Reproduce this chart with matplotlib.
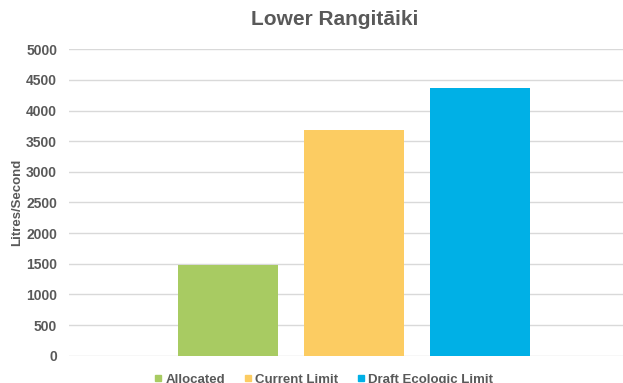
import matplotlib.pyplot as plt
from matplotlib.lines import Line2D

plt.rcParams['font.family'] = ['Liberation Sans', 'DejaVu Sans']

TITLE = "Lower Rangitāiki"
series = ["Allocated", "Current Limit", "Draft Ecologic Limit"]
values = [1475, 3675, 4365]
bar_colors = ["#a8cb62", "#fccc62", "#00b0e6"]
yticks = list(range(0, 5001, 500))

TEXT = "#595959"
GRID = "#d9d9d9"

fig = plt.figure(figsize=(6.23, 3.83), dpi=100)
ax = fig.add_axes([69 / 623, 0.0713, 1 - 69 / 623, 0.800])

positions = list(range(len(series)))
ax.bar(positions, values, width=0.794, color=bar_colors, zorder=2)

ax.set_xlim(-1.258, 3.135)
ax.set_ylim(0, 5000)
ax.set_yticks(yticks)
ax.set_xticks([])
ax.grid(axis='y', color=GRID, linewidth=1.0, zorder=0)
for s in ax.spines.values():
    s.set_visible(False)
ax.tick_params(axis='y', length=0, pad=8.5, labelsize=10, labelcolor=TEXT)
for lbl in ax.get_yticklabels():
    lbl.set_fontweight('bold')

ax.set_ylabel("Litres/Second", fontsize=9.5, fontweight='bold', color=TEXT)
ax.yaxis.set_label_coords(-0.093, 0.5)
ax.yaxis.label.set_va('center')

fig.text(0.538, 0.948, TITLE, ha='center', va='center', fontsize=15,
         fontweight='bold', color=TEXT)

# legend along the bottom edge
handles = [Line2D([], [], marker='s', linestyle='none', markersize=5,
                  markerfacecolor=c, markeredgecolor=c) for c in bar_colors]
leg = fig.legend(handles, series, loc='center', bbox_to_anchor=(0.52, 0.008),
                 ncol=3, frameon=False, handlelength=0.5, handletextpad=0.3,
                 columnspacing=1.45, prop={'size': 9.5, 'weight': 'bold'})
for t in leg.get_texts():
    t.set_color(TEXT)

fig.savefig("out.png", dpi=100)
